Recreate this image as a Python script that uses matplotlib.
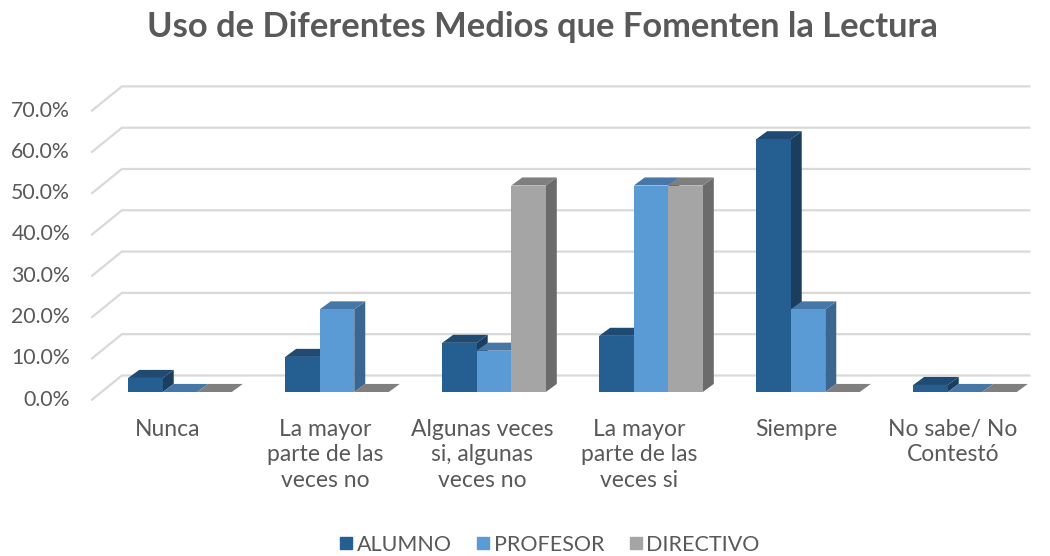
import matplotlib
matplotlib.use('Agg')
import matplotlib.pyplot as plt
from matplotlib.patches import Polygon
from matplotlib.lines import Line2D

plt.rcParams['font.family'] = ['Lato', 'DejaVu Sans']

# data
categories = ['Nunca', 'La mayor\nparte de las\nveces no', 'Algunas veces\nsi, algunas\nveces no',
              'La mayor\nparte de las\nveces si', 'Siempre', 'No sabe/ No\nContestó']
series = ['ALUMNO', 'PROFESOR', 'DIRECTIVO']
alumno = [3.4, 8.5, 11.9, 13.6, 61.2, 1.7]
profesor = [0.0, 20.0, 10.0, 50.0, 20.0, 0.0]
directivo = [0.0, 0.0, 50.0, 50.0, 0.0, 0.0]
yticks = [0, 10, 20, 30, 40, 50, 60, 70]

# front, top, side colours per series
colors = {
    'ALUMNO': ('#255e91', '#1f4b73', '#1b3d5e'),
    'PROFESOR': ('#5b9bd5', '#4677a6', '#3b6690'),
    'DIRECTIVO': ('#a5a5a5', '#7f7f7f', '#6b6b6b'),
}
text_col = '#595959'
grid_col = '#d9d9d9'

fig = plt.figure(figsize=(10.5, 5.56), dpi=100)
ax = fig.add_axes([0, 0, 1, 1])
# x: 1 unit = 157 px, category 0 centre at 180 px; y: 4.13 px per %, 0 at 392 px
ax.set_xlim(-180 / 157, (1050 - 180) / 157)
ax.set_ylim((392 - 556) / 4.13, 392 / 4.13)
ax.axis('off')

w = 0.22          # bar width
dx, dy = 0.07, 1.95   # depth offset of top/side faces
back_dy = 4.0
front_x, back_x, end_x = -0.56, -0.37, 5.41
front_dy = -1.85

# gridlines (side wall slant + back wall)
for t in yticks:
    ax.plot([front_x, back_x, end_x], [t + front_dy, t + back_dy, t + back_dy],
            color=grid_col, lw=1.6, zorder=1, solid_joinstyle='miter')
    ax.text(front_x - 0.14, t + front_dy, f'{t:.1f}%', ha='right', va='center',
            fontsize=15.3, color=text_col)

data = [alumno, profesor, directivo]
for i in range(len(categories)):
    for j, name in enumerate(series):
        v = data[j][i]
        x0 = i - 1.5 * w + j * w
        x1 = x0 + w
        front, top, side = colors[name]
        z = 2 + i * 3 + j
        ax.add_patch(Polygon([(x1, 0), (x1 + dx, dy), (x1 + dx, v + dy), (x1, v)],
                             closed=True, facecolor=side, lw=0, zorder=z))
        ax.add_patch(Polygon([(x0, v), (x0 + dx, v + dy), (x1 + dx, v + dy), (x1, v)],
                             closed=True, facecolor=top, lw=0, zorder=z))
        if v > 0:
            ax.bar(x0, v, width=w, align='edge', color=front, lw=0, zorder=z)

for i, c in enumerate(categories):
    ax.text(i - 0.076, (392 - 419) / 4.13, c, ha='center', va='top', fontsize=16.5,
            color=text_col, linespacing=1.26)

fig.text(0.517, 1 - 27 / 556, 'Uso de Diferentes Medios que Fomenten la Lectura',
         ha='center', va='center', fontsize=24.8, fontweight='bold', color=text_col)

handles = [Line2D([], [], marker='s', ls='', markersize=9, color=colors[s][0]) for s in series]
fig.legend(handles, series, loc='center', bbox_to_anchor=(0.522, 1 - 545 / 556), ncol=3,
           frameon=False, fontsize=15.5, handletextpad=0.05, columnspacing=1.0,
           labelcolor=text_col, handlelength=0.9)

fig.savefig('out.png', dpi=100)
